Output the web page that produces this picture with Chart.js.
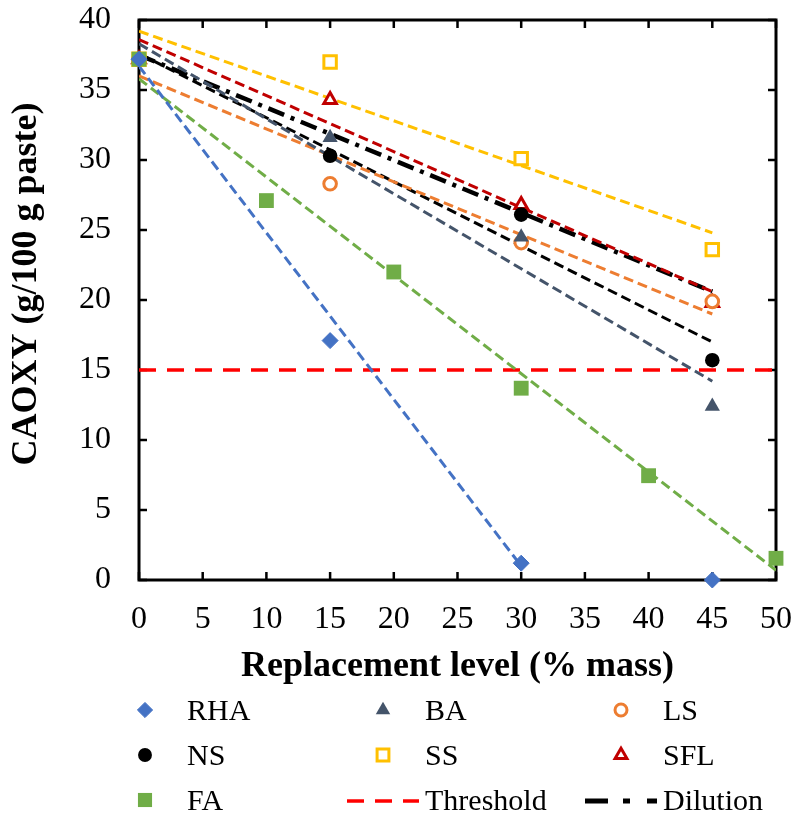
<!DOCTYPE html>
<html>
<head>
<meta charset="utf-8">
<title>CAOXY vs replacement level</title>
<script src="https://cdn.jsdelivr.net/npm/chart.js@4/dist/chart.umd.min.js"></script>
<style>
  html, body { margin: 0; background: #fff; }
  #wrap { width: 793px; height: 816px; position: relative; }
</style>
</head>
<body>
<div id="wrap"><canvas id="chart"></canvas></div>
<script>
// CAOXY (g/100 g paste) against replacement level (% mass) for each SCM.
const serif = '"Liberation Serif", "Times New Roman", serif';

const levels = [0, 15, 30, 45];
const rha = [37.2, 17.1, 1.2, 0];
const ba = [37.2, 31.6, 24.5, 12.4];
const ls = [37.2, 28.3, 24.1, 19.9];
const ns = [37.2, 30.3, 26.1, 15.7];
const ss = [37.2, 37.0, 30.1, 23.6];
const sfl = [37.2, 34.3, 26.8, 19.8];
const faLevels = [0, 10, 20, 30, 40, 50];
const fa = [37.2, 27.1, 22.0, 13.7, 7.45, 1.55];

// linear trend lines, start and end points
const fitRha = { x: [0, 30], y: [36.7, 1.0] };
const fitBa = { x: [0, 45], y: [38.3, 14.2] };
const fitLs = { x: [0, 45], y: [36.0, 19.0] };
const fitNs = { x: [0, 45], y: [37.6, 17.0] };
const fitSs = { x: [0, 45], y: [39.2, 24.8] };
const fitSfl = { x: [0, 45], y: [38.6, 20.6] };
const fitFa = { x: [0, 50], y: [35.8, 0.7] };
const dilution = { x: [0, 45], y: [37.5, 20.6] };
const thresholdX = [0, 50];
const thresholdY = [15, 15];

const xTicks = [0, 5, 10, 15, 20, 25, 30, 35, 40, 45, 50];
const yTicks = [0, 5, 10, 15, 20, 25, 30, 35, 40];

const pts = (xs, ys) => xs.map((x, i) => ({ x, y: ys[i] }));

const markerSets = [
  { label: 'RHA', x: levels, y: rha, pointStyle: 'rectRot', radius: 8, bg: '#4472C4', border: '#4472C4', bw: 1 },
  { label: 'FA', x: faLevels, y: fa, pointStyle: 'rect', radius: 10.5, bg: '#70AD47', border: '#70AD47', bw: 0 },
  { label: 'BA', x: levels, y: ba, pointStyle: 'triangle', radius: 8.8, bg: '#44546A', border: '#44546A', bw: 0 },
  { label: 'LS', x: levels, y: ls, pointStyle: 'circle', radius: 6.3, bg: '#fff', border: '#ED7D31', bw: 3 },
  { label: 'NS', x: levels, y: ns, pointStyle: 'circle', radius: 7.3, bg: '#000', border: '#000', bw: 0 },
  { label: 'SS', x: levels, y: ss, pointStyle: 'rect', radius: 8.8, bg: '#fff', border: '#FFC000', bw: 3 },
  { label: 'SFL', x: levels, y: sfl, pointStyle: 'triangle', radius: 7.2, bg: '#fff', border: '#C00000', bw: 3 },
];

const fitSets = [
  { fit: fitRha, color: '#4472C4' },
  { fit: fitFa, color: '#70AD47' },
  { fit: fitBa, color: '#44546A' },
  { fit: fitLs, color: '#ED7D31' },
  { fit: fitNs, color: '#000000' },
  { fit: fitSs, color: '#FFC000' },
  { fit: fitSfl, color: '#C00000' },
];

const datasets = [];
markerSets.forEach((m) => datasets.push({
  label: m.label, data: pts(m.x, m.y), showLine: false, clip: false,
  pointStyle: m.pointStyle, pointRadius: m.radius, pointHoverRadius: m.radius,
  pointBackgroundColor: m.bg, pointBorderColor: m.border, pointBorderWidth: m.bw,
}));
fitSets.forEach((f) => datasets.push({
  label: 'fit', data: pts(f.fit.x, f.fit.y), showLine: true, pointRadius: 0,
  borderColor: f.color, borderWidth: 3, borderDash: [10, 5], fill: false,
}));
datasets.push({
  label: 'Dilution', data: pts(dilution.x, dilution.y), showLine: true, pointRadius: 0,
  borderColor: '#000', borderWidth: 4.5, borderDash: [17, 7, 4, 7], fill: false,
});
datasets.push({
  label: 'Threshold', data: pts(thresholdX, thresholdY), showLine: true, pointRadius: 0,
  borderColor: '#FF0000', borderWidth: 3.5, borderDash: [17, 11], fill: false,
});

// legend grid: three columns, three rows
const legendRows = [
  [{ k: 'RHA' }, { k: 'BA' }, { k: 'LS' }],
  [{ k: 'NS' }, { k: 'SS' }, { k: 'SFL' }],
  [{ k: 'FA' }, { k: 'Threshold', line: ['#FF0000', 3.5, [17, 11]] }, { k: 'Dilution', line: ['#000', 5, [23, 15, 7, 17]] }],
];
const legendColX = [145, 383, 621];
const legendTextX = [187, 425, 663];
const legendRowY = [710, 755, 800];

// frame, inward tick marks, y title and legend
const decor = {
  id: 'decor',
  beforeDatasetsDraw(chart) {
    const { ctx, chartArea: a, scales: { x, y } } = chart;
    ctx.save();
    ctx.strokeStyle = '#000';
    ctx.lineWidth = 3;
    ctx.strokeRect(a.left, a.top, a.right - a.left, a.bottom - a.top);
    ctx.lineWidth = 2.5;
    ctx.beginPath();
    xTicks.forEach((v) => {
      const px = x.getPixelForValue(v);
      ctx.moveTo(px, a.bottom); ctx.lineTo(px, a.bottom - 8);
      ctx.moveTo(px, a.top); ctx.lineTo(px, a.top + 8);
    });
    yTicks.forEach((v) => {
      const py = y.getPixelForValue(v);
      ctx.moveTo(a.left, py); ctx.lineTo(a.left + 8, py);
      ctx.moveTo(a.right, py); ctx.lineTo(a.right - 8, py);
    });
    ctx.stroke();
    ctx.restore();
  },
  afterDraw(chart) {
    const { ctx } = chart;
    ctx.save();
    ctx.fillStyle = '#000';
    ctx.font = 'bold 36px ' + serif;
    ctx.textAlign = 'center';
    ctx.textBaseline = 'middle';
    ctx.translate(26.5, 284);
    ctx.rotate(-Math.PI / 2);
    ctx.fillText('CAOXY (g/100 g paste)', 0, 0);
    ctx.restore();

    ctx.save();
    ctx.font = '30px ' + serif;
    ctx.textBaseline = 'alphabetic';
    legendRows.forEach((row, r) => {
      row.forEach((item, c) => {
        const cy = legendRowY[r];
        if (item.line) {
          const [color, w, dash] = item.line;
          ctx.strokeStyle = color; ctx.lineWidth = w; ctx.setLineDash(dash);
          ctx.beginPath();
          ctx.moveTo(legendColX[c] - 36, cy + 1); ctx.lineTo(legendTextX[c] - 6, cy + 1);
          ctx.stroke();
          ctx.setLineDash([]);
        } else {
          const m = markerSets.find((s) => s.label === item.k);
          ctx.fillStyle = m.bg; ctx.strokeStyle = m.border; ctx.lineWidth = m.bw;
          Chart.helpers.drawPoint(ctx, { pointStyle: m.pointStyle, radius: m.radius * 0.95, borderWidth: m.bw, rotation: 0 }, legendColX[c], cy);
        }
        ctx.fillStyle = '#000';
        ctx.fillText(item.k, legendTextX[c], cy + 10);
      });
    });
    ctx.restore();
  },
};

new Chart(document.getElementById('chart'), {
  type: 'scatter',
  data: { datasets },
  options: {
    responsive: true, maintainAspectRatio: false, animation: false,
    devicePixelRatio: 1,
    layout: { padding: { left: 0, top: 20, right: 17, bottom: 127.4 } },
    plugins: { legend: { display: false }, tooltip: { enabled: false } },
    scales: {
      x: {
        type: 'linear', min: 0, max: 50,
        afterFit: (s) => { s.height = 108.6; s.paddingLeft = 0; s.paddingRight = 0; },
        afterBuildTicks: (s) => { s.ticks = xTicks.map((v) => ({ value: v })); },
        grid: { display: false, drawTicks: false },
        border: { display: false },
        ticks: { color: '#000', padding: 20, maxRotation: 0, font: { family: serif, size: 32 } },
        title: { display: true, text: 'Replacement level (% mass)', color: '#000', padding: 0, font: { family: serif, size: 36, weight: 'bold' } },
      },
      y: {
        type: 'linear', min: 0, max: 40,
        afterFit: (s) => { s.width = 139; s.paddingTop = 0; s.paddingBottom = 0; },
        afterBuildTicks: (s) => { s.ticks = yTicks.map((v) => ({ value: v })); },
        grid: { display: false, drawTicks: false },
        border: { display: false },
        ticks: { color: '#000', padding: 28, font: { family: serif, size: 32 } },
      },
    },
  },
  plugins: [decor],
});
</script>
</body>
</html>
